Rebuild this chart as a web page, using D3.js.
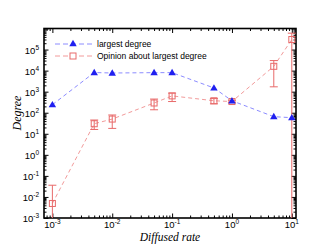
<!DOCTYPE html>
<html>
<head>
<meta charset="utf-8">
<script src="https://cdn.jsdelivr.net/npm/d3@7"></script>
<style>
  html, body { margin: 0; padding: 0; background: #fff; }
  svg { display: block; }
</style>
</head>
<body>
<svg id="chart" width="327" height="245"></svg>
<script>
// data
const rates = [0.001, 0.005, 0.01, 0.05, 0.1, 0.5, 1, 5, 10];
const largestDegree = [240, 8100, 7700, 8000, 8000, 1500, 370, 65, 58];
const opinionDegree = [0.0049, 30, 50, 290, 630, 370, 340, 16000, 300000];
const opinionLow = [1e-4, 16, 18, 138, 340, 265, 300, 1700, 1e-4];
const opinionHigh = [0.036, 45, 78, 445, 850, 470, 390, 30000, 6e5];
const seriesNames = ["largest degree", "Opinion about largest degree"];
const xTickExp = [-3, -2, -1, 0, 1];
const yTickExp = [-3, -2, -1, 0, 1, 2, 3, 4, 5];

const svg = d3.select("#chart");
const plot = { left: 44, right: 296, top: 28.5, bottom: 218 };

const x = d3.scaleLog()
  .domain([Math.pow(10, -3.14), Math.pow(10, 1.07)])
  .range([plot.left, plot.right]);
const y = d3.scaleLog()
  .domain([1e-3, 1e6])
  .range([plot.bottom, plot.top]);

const blue = "#2020f0", blueLine = "#8c8cff";
const red = "#e86a6a", redLine = "#f29a9a";

// minor ticks for each decade
function minorTicks(lo, hi) {
  const out = [];
  for (let e = lo; e <= hi; e++) {
    for (let m = 2; m <= 9; m++) out.push(m * Math.pow(10, e));
  }
  return out;
}
const xMinor = minorTicks(-4, 1).filter(v => v > x.domain()[0] && v < x.domain()[1]);
const yMinor = minorTicks(-3, 5);
const xMajor = xTickExp.map(e => Math.pow(10, e));
const yMajor = yTickExp.map(e => Math.pow(10, e)).concat([1e6]);

const axes = svg.append("g");
function drawAxis(axisFn, scale, vals, size, transform) {
  axes.append("g")
    .attr("transform", transform)
    .call(axisFn(scale).tickValues(vals).tickSize(size).tickFormat(""))
    .call(g => g.select(".domain").remove())
    .call(g => g.selectAll("line").attr("stroke", "#000").attr("stroke-width", 1));
}
// inward ticks on all four sides
drawAxis(d3.axisBottom, x, xMajor, -4.5, `translate(0,${plot.bottom})`);
drawAxis(d3.axisBottom, x, xMinor, -2.5, `translate(0,${plot.bottom})`);
drawAxis(d3.axisTop, x, xMajor, -4.5, `translate(0,${plot.top})`);
drawAxis(d3.axisTop, x, xMinor, -2.5, `translate(0,${plot.top})`);
drawAxis(d3.axisLeft, y, yMajor, -4.5, `translate(${plot.left},0)`);
drawAxis(d3.axisLeft, y, yMinor, -2.5, `translate(${plot.left},0)`);
drawAxis(d3.axisRight, y, yMajor, -4.5, `translate(${plot.right},0)`);
drawAxis(d3.axisRight, y, yMinor, -2.5, `translate(${plot.right},0)`);

axes.append("rect")
  .attr("x", plot.left).attr("y", plot.top)
  .attr("width", plot.right - plot.left).attr("height", plot.bottom - plot.top)
  .attr("fill", "none").attr("stroke", "#000").attr("stroke-width", 1.6);

// tick labels: 10 with superscript exponent
const font = "Liberation Sans, Arial, sans-serif";
xTickExp.forEach(e => {
  const t = svg.append("text")
    .attr("x", x(Math.pow(10, e)))
    .attr("y", 228)
    .attr("text-anchor", "middle")
    .attr("font-family", font).attr("font-size", 9.5);
  t.append("tspan").text("10");
  t.append("tspan").attr("dy", -4).attr("font-size", 6.5).text(e);
});
yTickExp.forEach(e => {
  const t = svg.append("text")
    .attr("x", 39)
    .attr("y", y(Math.pow(10, e)) + 4)
    .attr("text-anchor", "end")
    .attr("font-family", font).attr("font-size", 9.5);
  t.append("tspan").text("10");
  t.append("tspan").attr("dy", -4).attr("font-size", 6.5).text(e);
});

// axis titles
svg.append("text")
  .attr("x", 170).attr("y", 241)
  .attr("text-anchor", "middle")
  .attr("font-family", "Liberation Serif, Times New Roman, serif")
  .attr("font-style", "italic").attr("font-size", 11.5)
  .text("Diffused rate");
svg.append("text")
  .attr("transform", "translate(21,113) rotate(-90)")
  .attr("text-anchor", "middle")
  .attr("font-family", "Liberation Serif, Times New Roman, serif")
  .attr("font-style", "italic").attr("font-size", 12)
  .text("Degree");

// plotting area clip
svg.append("clipPath").attr("id", "clip")
  .append("rect")
  .attr("x", plot.left).attr("y", plot.top)
  .attr("width", plot.right - plot.left).attr("height", plot.bottom - plot.top);
const g = svg.append("g").attr("clip-path", "url(#clip)");

const line = d3.line().x(d => x(d[0])).y(d => y(d[1]));

// opinion series: dashed line, error bars, open squares
g.append("path")
  .attr("d", line(rates.map((r, i) => [r, opinionDegree[i]])))
  .attr("fill", "none").attr("stroke", redLine)
  .attr("stroke-width", 1).attr("stroke-dasharray", "4,3");

const errs = g.append("g").attr("stroke", red).attr("stroke-width", 1);
rates.forEach((r, i) => {
  const cx = x(r);
  errs.append("line")
    .attr("x1", cx).attr("x2", cx)
    .attr("y1", y(opinionLow[i])).attr("y2", y(opinionHigh[i]));
  [opinionLow[i], opinionHigh[i]].forEach(v => {
    errs.append("line")
      .attr("x1", cx - 4).attr("x2", cx + 4)
      .attr("y1", y(v)).attr("y2", y(v));
  });
});

g.selectAll("rect.opinion")
  .data(rates)
  .join("rect")
  .attr("class", "opinion")
  .attr("x", (d, i) => x(d) - 3)
  .attr("y", (d, i) => y(opinionDegree[i]) - 3)
  .attr("width", 6).attr("height", 6)
  .attr("fill", "none").attr("stroke", red).attr("stroke-width", 1);

// largest degree series: dashed line + triangles
g.append("path")
  .attr("d", line(rates.map((r, i) => [r, largestDegree[i]])))
  .attr("fill", "none").attr("stroke", blueLine)
  .attr("stroke-width", 1).attr("stroke-dasharray", "4,3");

const tri = d3.symbol().type(d3.symbolTriangle).size(24);
g.selectAll("path.largest")
  .data(rates)
  .join("path")
  .attr("class", "largest")
  .attr("d", tri)
  .attr("transform", (d, i) => `translate(${x(d)},${y(largestDegree[i]) + 0.5})`)
  .attr("fill", blue);

// legend
const legend = svg.append("g");
const rows = [
  { name: seriesNames[0], color: blueLine, mark: "tri" },
  { name: seriesNames[1], color: redLine, mark: "sq" }
];
rows.forEach((d, i) => {
  const ly = 44 + i * 12;
  legend.append("line")
    .attr("x1", 55).attr("x2", 92).attr("y1", ly).attr("y2", ly)
    .attr("stroke", d.color).attr("stroke-width", 1).attr("stroke-dasharray", "5,3");
  if (d.mark === "tri") {
    legend.append("path").attr("d", tri)
      .attr("transform", `translate(73,${ly})`).attr("fill", blue);
  } else {
    legend.append("rect")
      .attr("x", 70).attr("y", ly - 3).attr("width", 6).attr("height", 6)
      .attr("fill", "#fff").attr("stroke", red);
  }
  legend.append("text")
    .attr("x", 97).attr("y", ly + 3)
    .attr("font-family", font).attr("font-size", 8.5)
    .text(d.name);
});
</script>
</body>
</html>
